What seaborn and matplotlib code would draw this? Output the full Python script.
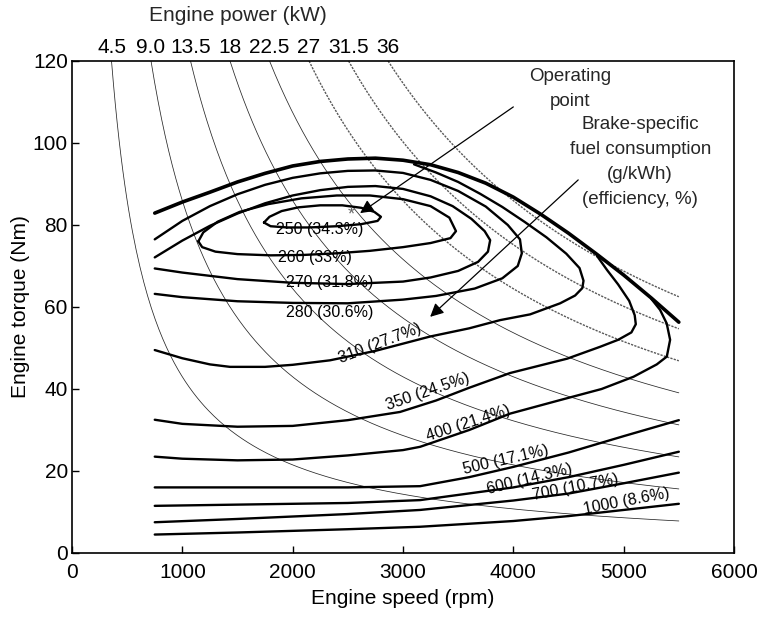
import matplotlib
matplotlib.use("Agg")
import matplotlib.pyplot as plt
import matplotlib.transforms as mtransforms
import seaborn as sns
import numpy as np
import pandas as pd

# ---------------- data ----------------
power_kw = [4.5, 9.0, 13.5, 18, 22.5, 27, 31.5, 36]
power_labels = ["4.5", "9.0", "13.5", "18", "22.5", "27", "31.5", "36"]
dotted_power = [27, 31.5, 36]
power_rpm_max = 5500

wot_rpm = [750, 1000, 1250, 1500, 1750, 2000, 2250, 2500, 2750, 3000, 3250, 3500,
           3750, 4000, 4250, 4500, 4750, 5000, 5250, 5500]
wot_torque = [82.9, 85.6, 88.0, 90.5, 92.6, 94.4, 95.5, 96.1, 96.3, 95.8, 94.7, 92.8,
              90.2, 86.8, 82.6, 78.0, 73.0, 67.8, 62.2, 56.3]

c250_rpm = [1740, 1790, 1900, 2050, 2250, 2450, 2620, 2740, 2800, 2770, 2620, 2400, 2150, 1950, 1800, 1740]
c250_torque = [80.6, 82.0, 83.4, 84.3, 84.8, 84.8, 84.2, 83.2, 82.0, 81.0, 80.2, 79.7, 79.4, 79.4, 79.7, 80.6]

c260_rpm = [1145, 1190, 1320, 1520, 1780, 2080, 2400, 2700, 3000, 3250, 3420, 3480, 3430, 3250, 3000,
            2700, 2400, 2100, 1800, 1500, 1300, 1180, 1145]
c260_torque = [76.0, 78.2, 80.8, 83.2, 85.1, 86.5, 87.2, 87.2, 86.3, 84.6, 81.8, 78.5, 76.8, 75.6, 74.6,
               73.7, 73.1, 72.7, 72.6, 72.9, 73.5, 74.6, 76.0]

c270_rpm = [750, 1000, 1250, 1500, 1750, 2000, 2250, 2500, 2750, 3000, 3250, 3450, 3620, 3740, 3790,
            3770, 3680, 3500, 3250, 3000, 2500, 2000, 1500, 1000, 750]
c270_torque = [72.1, 76.2, 79.8, 82.8, 85.3, 87.2, 88.5, 89.3, 89.5, 88.8, 87.0, 84.6, 81.5, 78.5, 76.3,
               73.5, 71.0, 68.8, 67.2, 66.2, 65.6, 65.9, 66.8, 68.4, 69.4]

c280_rpm = [750, 1000, 1250, 1500, 1750, 2000, 2250, 2500, 2750, 3000, 3250, 3500, 3750, 3950, 4060,
            4077, 4040, 3900, 3650, 3300, 3000, 2500, 2000, 1500, 1000, 750]
c280_torque = [76.5, 81.0, 84.6, 87.5, 89.8, 91.5, 92.6, 93.2, 93.3, 92.7, 91.0, 88.3, 84.5, 80.0, 76.5,
               73.1, 70.0, 67.0, 64.5, 62.7, 61.8, 60.9, 61.0, 61.4, 62.4, 63.2]

c310_rpm = [750, 1000, 1250, 1432, 1750, 2000, 2339, 2750, 3246, 3600, 3880, 4152, 4424, 4560, 4625, 4636,
            4600, 4480, 4300, 4100, 3900, 3700, 3500, 3300, 3100]
c310_torque = [49.5, 47.5, 46.0, 45.4, 45.4, 45.9, 47.0, 49.3, 52.8, 54.8, 56.8, 58.2, 60.9, 62.8, 64.6, 66.4,
               69.5, 73.0, 77.0, 80.8, 84.4, 87.6, 90.5, 92.8, 94.8]

c350_rpm = [750, 1000, 1500, 2000, 2500, 2973, 3300, 3600, 3971, 4488, 4787, 4950, 5070, 5110, 5100,
            5050, 4950, 4850, 4760]
c350_torque = [32.5, 31.5, 30.8, 31.0, 32.4, 34.4, 37.2, 40.3, 43.9, 47.4, 50.3, 52.0, 53.8, 55.8, 58.0,
               61.5, 65.5, 69.0, 72.4]

c400_rpm = [750, 1000, 1500, 2000, 2500, 3000, 3155, 3600, 3971, 4424, 4800, 5090, 5300, 5391, 5421,
            5390, 5330, 5250]
c400_torque = [23.5, 23.0, 22.6, 22.8, 23.8, 25.1, 25.9, 30.0, 34.0, 37.3, 40.0, 43.0, 46.0, 47.9, 52.0,
               56.0, 59.3, 62.0]

c500_rpm = [750, 1500, 2500, 3155, 3600, 4000, 4500, 5000, 5500]
c500_torque = [16.0, 16.0, 16.0, 16.3, 18.5, 21.0, 24.5, 28.5, 32.4]

c600_rpm = [750, 1500, 2500, 3155, 4000, 4500, 5000, 5500]
c600_torque = [11.5, 11.8, 12.2, 12.9, 16.0, 18.5, 21.5, 24.7]

c700_rpm = [750, 1500, 2500, 3155, 4000, 4500, 5000, 5500]
c700_torque = [7.5, 8.3, 9.5, 10.5, 12.8, 14.5, 17.0, 19.6]

c1000_rpm = [750, 1500, 2500, 3155, 4000, 4500, 5000, 5500]
c1000_torque = [4.5, 5.0, 5.8, 6.4, 7.8, 9.0, 10.5, 12.0]

contour_labels = ["250 (34.3%)", "260 (33%)", "270 (31.8%)", "280 (30.6%)", "310 (27.7%)",
                  "350 (24.5%)", "400 (21.4%)", "500 (17.1%)", "600 (14.3%)", "700 (10.7%)",
                  "1000 (8.6%)"]
label_rpm = [2248, 2203, 2339, 2339, 2792, 3228, 3593, 3935, 4146, 4560, 5023]
label_torque = [78.9, 72.1, 66.0, 58.6, 51.1, 39.3, 31.6, 22.8, 18.0, 16.0, 12.5]
label_angle = [0, 0, 0, 0, 21, 19, 18, 13, 14, 11, 11]

operating_point = (2535, 82.4)

# ---------------- figure ----------------
sns.set_theme(style="white")
plt.rcParams['font.family'] = ['Liberation Sans', 'DejaVu Sans']

W, H = 759, 621
fig = plt.figure(figsize=(W / 100, H / 100), dpi=100)
ax = fig.add_axes([72 / W, 1 - 553 / H, (734 - 72) / W, (553 - 61) / H])

# constant power lines (iso-power hyperbolas T = 60000 P / (2 pi n))
for P in power_kw:
    n0 = 60000 * P / (2 * np.pi * 120)
    n = np.linspace(n0, power_rpm_max, 300)
    t = 60000 * P / (2 * np.pi * n)
    if P in dotted_power:
        ax.plot(n, t, color='0.35', lw=1.0, ls=(0, (1.6, 0.9)), zorder=1)
    else:
        ax.plot(n, t, color='0.15', lw=0.55, zorder=1)

# BSFC contours
series = {
    "250": (c250_rpm, c250_torque), "260": (c260_rpm, c260_torque),
    "270": (c270_rpm, c270_torque), "280": (c280_rpm, c280_torque),
    "310": (c310_rpm, c310_torque), "350": (c350_rpm, c350_torque),
    "400": (c400_rpm, c400_torque), "500": (c500_rpm, c500_torque),
    "600": (c600_rpm, c600_torque), "700": (c700_rpm, c700_torque),
    "1000": (c1000_rpm, c1000_torque),
}
rows = []
for name, (r, t) in series.items():
    for i, (ri, ti) in enumerate(zip(r, t)):
        rows.append((name, i, ri, ti))
df = pd.DataFrame(rows, columns=["level", "order", "rpm", "torque"])
sns.lineplot(data=df, x="rpm", y="torque", units="level", estimator=None, sort=False,
             color="black", lw=1.7, ax=ax, legend=False, zorder=3)

wot = pd.DataFrame({"rpm": wot_rpm, "torque": wot_torque})
sns.lineplot(data=wot, x="rpm", y="torque", sort=False, estimator=None, color="black",
             lw=2.6, ax=ax, legend=False, zorder=4)

# contour labels
for txt, xr, yt, ang in zip(contour_labels, label_rpm, label_torque, label_angle):
    ax.text(xr, yt, txt, fontsize=11.5, ha="center", va="center", rotation=ang,
            rotation_mode="anchor", color="black", zorder=5)

ax.text(operating_point[0], operating_point[1], "*", fontsize=13, color="0.4",
        ha="center", va="center", zorder=5)

# annotations
ax.annotate("", xy=(2611, 82.9), xytext=(4000, 108.8),
            arrowprops=dict(arrowstyle="-|>", color="black", lw=0.9, mutation_scale=20,
                            shrinkA=0, shrinkB=0), zorder=6)
ax.text(4515, 113.2, "Operating\npoint", fontsize=13.5, ha="center", va="center",
        linespacing=1.62)

ax.annotate("", xy=(3246, 57.6), xytext=(4588, 91.0),
            arrowprops=dict(arrowstyle="-|>", color="black", lw=0.9, mutation_scale=20,
                            shrinkA=0, shrinkB=0), zorder=6)
ax.text(5150, 95.3, "Brake-specific\nfuel consumption\n(g/kWh)\n(efficiency, %)",
        fontsize=13.5, ha="center", va="center", linespacing=1.62)

# axes formatting
ax.set_xlim(0, 6000)
ax.set_ylim(0, 120)
ax.set_xticks(range(0, 6001, 1000))
ax.set_yticks(range(0, 121, 20))
ax.tick_params(direction="in", length=5, width=1, labelsize=15, colors="black",
               top=False, right=False, bottom=True, left=True)
ax.tick_params(axis="y", pad=3)
ax.tick_params(axis="x", pad=7)
for s in ax.spines.values():
    s.set_color("black")
    s.set_linewidth(1.2)
ax.set_xlabel("Engine speed (rpm)", fontsize=15, labelpad=5, color="black")
ax.set_ylabel("Engine torque (Nm)", fontsize=15, labelpad=2, color="black")

# top power scale
ax2 = ax.twiny()
ax2.set_xlim(0, 6000)
ax2.set_xticks([60000 * P / (2 * np.pi * 120) for P in power_kw])
ax2.set_xticklabels(power_labels)
ax2.tick_params(axis="x", length=0, labelsize=15, pad=3, colors="black")
for s in ax2.spines.values():
    s.set_visible(False)
ax2.grid(False)
trans = mtransforms.blended_transform_factory(ax.transData, ax.transAxes)
ax.text(1500, 1.093, "Engine power (kW)", transform=trans, fontsize=15,
        ha="center", va="center")

fig.savefig("out.png", dpi=100)
